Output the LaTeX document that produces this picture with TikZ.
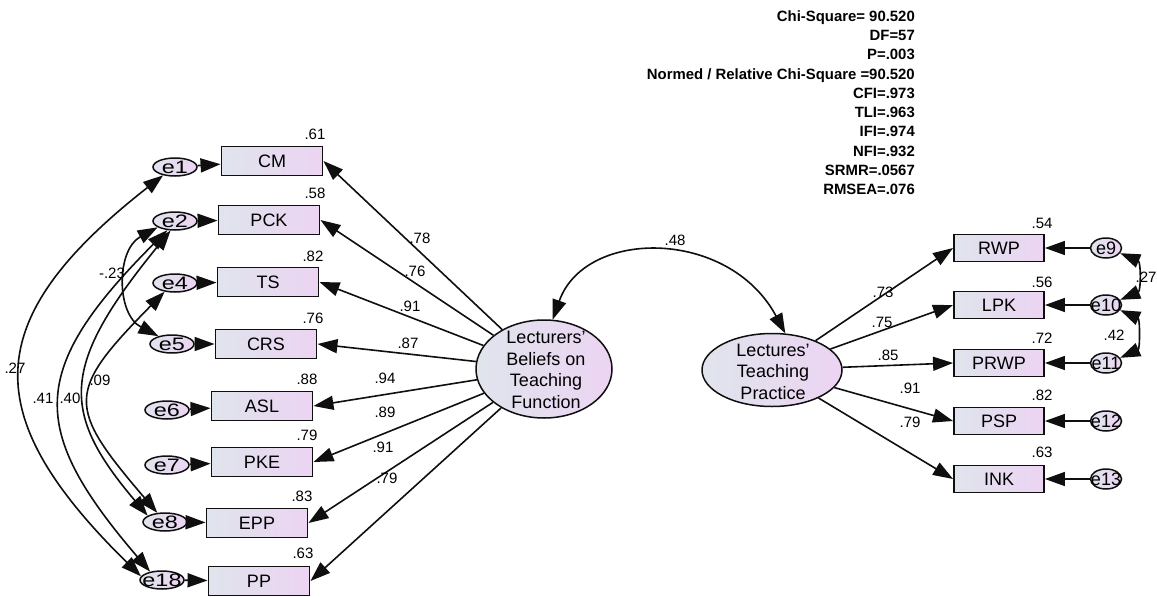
\documentclass[tikz,border=0pt]{standalone}
\usepackage{fontspec}
\setmainfont{Liberation Sans}
\newfontfamily\wideefont[FakeStretch=1.3]{Liberation Sans}
\usetikzlibrary{arrows.meta,shapes.geometric}
\definecolor{gl}{RGB}{224,228,237}
\definecolor{gr}{RGB}{236,212,242}
\definecolor{ink}{RGB}{15,15,15}
\newcommand\ztext[1]{\makebox[0pt]{\smash{\raisebox{-.36em}{#1}}}}
\tikzset{
  obsbox/.style={draw=ink, line width=1.9pt, left color=gl, right color=gr,
    minimum width=101pt, minimum height=29pt, inner sep=0pt,
    font=\fontsize{18}{21}\selectfont},
  obsboxr/.style={obsbox, minimum width=90pt, minimum height=27pt},
  errl/.style={ellipse, draw=ink, line width=1.5pt, left color=gl, right color=gr,
    minimum width=44pt, minimum height=18pt, inner sep=0pt,
    font=\wideefont\fontsize{18}{21}\selectfont},
  errr/.style={ellipse, draw=ink, line width=1.5pt, left color=gl, right color=gr,
    minimum width=31pt, minimum height=20pt, inner sep=0pt,
    font=\fontsize{18}{21}\selectfont},
  latent/.style={ellipse, draw=ink, line width=1.5pt, left color=gl, right color=gr,
    inner sep=0pt},
  lattext/.style={inner sep=0pt, align=center, font=\fontsize{18}{21.5}\selectfont},
  num/.style={inner sep=0pt, font=\fontsize{15}{17}\selectfont},
  arr/.style={draw=ink, line width=1.6pt, -{Triangle[length=20pt,width=14pt]}},
  dbl/.style={draw=ink, line width=1.6pt, {Triangle[length=20pt,width=14pt]}-{Triangle[length=20pt,width=14pt]}},
}
\begin{document}
\begin{tikzpicture}[x=1pt,y=-1pt]
\useasboundingbox (0,0) rectangle (1157,597);
\fill[white] (0,0) rectangle (1157,597);

% fit indices
\node[inner sep=0pt, anchor=north east, align=right,
  font=\bfseries\fontsize{14.9}{19.3}\selectfont] (fit) at (915,10.2)
  {Chi-Square= 90.520\\DF=57\\P=.003\\Normed / Relative Chi-Square =90.520\\CFI=.973\\TLI=.963\\IFI=.974\\NFI=.932\\SRMR=.0567\\RMSEA=.076};

% latent variables
\node[latent, minimum width=136pt, minimum height=98pt] (lat1) at (544,369) {};
\node[lattext] (lat1t) at (546,370) {Lecturers'\\Beliefs on\\Teaching\\Function};
\node[latent, minimum width=140pt, minimum height=73pt] (lat2) at (772,370) {};
\node[lattext] (lat2t) at (773,371.5) {Lectures'\\Teaching\\Practice};

% left observed
\node[obsbox] (CM)  at (272,161) {CM};
\node[obsbox] (PCK) at (269,220) {PCK};
\node[obsbox] (TS)  at (268,282) {TS};
\node[obsbox] (CRS) at (266,344) {CRS};
\node[obsbox] (ASL) at (262,406) {ASL};
\node[obsbox] (PKE) at (262,462) {PKE};
\node[obsbox] (EPP) at (257,523) {EPP};
\node[obsbox] (PP)  at (259,581) {PP};

% left errors
\node[errl] (e1)  at (175,167) {\ztext{e1}};
\node[errl] (e2)  at (175,221) {\ztext{e2}};
\node[errl] (e4)  at (175,283) {\ztext{e4}};
\node[errl] (e5)  at (172,344) {\ztext{e5}};
\node[errl] (e6)  at (167,410) {\ztext{e6}};
\node[errl] (e7)  at (167,465) {\ztext{e7}};
\node[errl] (e8)  at (165,522) {\ztext{e8}};
\node[errl] (e18) at (162,580) {\ztext{e18}};

% right observed
\node[obsboxr] (RWP)  at (999,248) {RWP};
\node[obsboxr] (LPK)  at (999,305) {LPK};
\node[obsboxr] (PRWP) at (999,363) {PRWP};
\node[obsboxr] (PSP)  at (999,421) {PSP};
\node[obsboxr] (INK)  at (999,479) {INK};

% right errors
\node[errr] (e9)  at (1106,248) {\ztext{e9}};
\node[errr] (e10) at (1106,305) {\ztext{e10}};
\node[errr] (e11) at (1106,363) {\ztext{e11}};
\node[errr] (e12) at (1106,421) {\ztext{e12}};
\node[errr] (e13) at (1106,479) {\ztext{e13}};

% error arrows left
\foreach \e/\b in {e1/CM,e2/PCK,e4/TS,e5/CRS,e6/ASL,e7/PKE,e8/EPP,e18/PP}
  \draw[arr] (\e) -- (\b);
% error arrows right
\foreach \e/\b in {e9/RWP,e10/LPK,e11/PRWP,e12/PSP,e13/INK}
  \draw[arr] (\e) -- (\b);

% loadings left
\foreach \b in {CM,PCK,TS,CRS,ASL,PKE,EPP,PP}
  \draw[arr] (lat1) -- (\b.east);
% loadings right
\foreach \b in {RWP,LPK,PRWP,PSP,INK}
  \draw[arr] (lat2) -- (\b.west);

% latent covariance
\draw[dbl] (lat1.80) .. controls (585,228) and (729,228) .. (lat2.70);

% left covariances
\draw[dbl] (e1.215) .. controls (-22,320) and (-22,416) .. (e18.170);
\draw[dbl] (e2.230) .. controls (28,370) and (28,429) .. (e18.145);
\draw[dbl] (e2.245) .. controls (60,366) and (60,412) .. (e8.160);
\draw[dbl] (e4.220) .. controls (66,392) and (66,406) .. (e8.130);
\draw[dbl] (e2.200) .. controls (116,250) and (116,314) .. (e5.150);

% right covariances
\draw[dbl] (e9.340) .. controls (1141,262) and (1141,291) .. (e10.20);
\draw[dbl] (e10.340) .. controls (1140,319) and (1140,349) .. (e11.20);

% squared multiple correlations
\node[num] (s1) at (315,134) {.61};
\node[num] (s2) at (315,193) {.58};
\node[num] (s3) at (313,256) {.82};
\node[num] (s4) at (313,318) {.76};
\node[num] (s5) at (307,379) {.88};
\node[num] (s6) at (307,435) {.79};
\node[num] (s7) at (302,496) {.83};
\node[num] (s8) at (303,553) {.63};
\node[num] (s9)  at (1042,223) {.54};
\node[num] (s10) at (1042,282) {.56};
\node[num] (s11) at (1042,338) {.72};
\node[num] (s12) at (1042,395) {.82};
\node[num] (s13) at (1042,452) {.63};

% loadings labels
\node[num] (l1) at (420,238) {.78};
\node[num] (l2) at (415,271) {.76};
\node[num] (l3) at (410,306) {.91};
\node[num] (l4) at (408,343) {.87};
\node[num] (l5) at (385,378) {.94};
\node[num] (l6) at (385,412) {.89};
\node[num] (l7) at (383,447) {.91};
\node[num] (l8) at (387,478) {.79};
\node[num] (r1) at (883,292) {.73};
\node[num] (r2) at (882,322) {.75};
\node[num] (r3) at (888,355) {.85};
\node[num] (r4) at (910,388) {.91};
\node[num] (r5) at (910,422) {.79};

% covariance labels
\node[num] (c0) at (675,240) {.48};
\node[num] (c1) at (15,368) {.27};
\node[num] (c2) at (43,398) {.41};
\node[num] (c3) at (70,398) {.40};
\node[num] (c4) at (100,380) {.09};
\node[num] (c5) at (112,273) {-.23};
\node[num] (c6) at (1146,277) {.27};
\node[num] (c7) at (1114,335) {.42};
\end{tikzpicture}
\end{document}
